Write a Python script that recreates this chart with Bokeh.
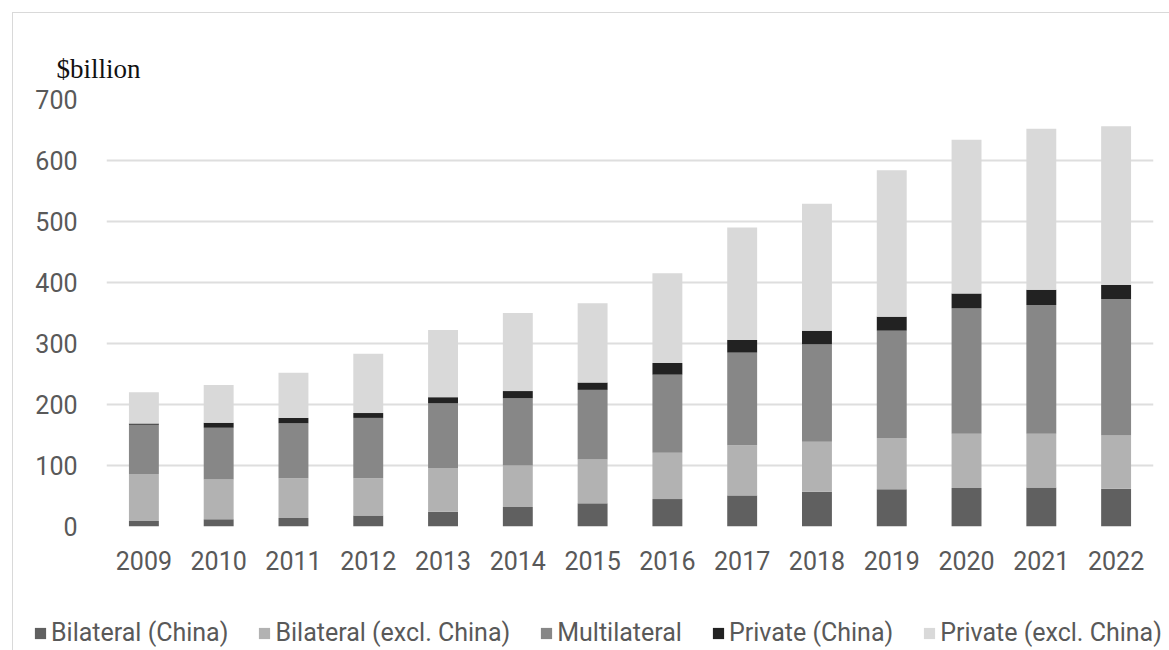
from bokeh.plotting import figure
from bokeh.models import Legend, LegendItem, ColumnDataSource
from bokeh.layouts import column
from bokeh.embed import file_html
from bokeh.resources import INLINE

years = ["2009", "2010", "2011", "2012", "2013", "2014", "2015", "2016",
         "2017", "2018", "2019", "2020", "2021", "2022"]
bilateral_china = [9, 12, 14, 18, 24, 32, 38, 45, 51, 57, 61, 63, 64, 62]
bilateral_excl = [77, 65, 65, 61, 72, 68, 72, 76, 82, 82, 84, 89, 88, 87]
multilateral = [81, 85, 90, 99, 106, 110, 114, 128, 152, 160, 176, 206, 211, 224]
private_china = [2, 8, 9, 8, 10, 12, 12, 19, 21, 22, 23, 24, 25, 23]
private_excl = [51, 62, 74, 97, 110, 128, 130, 147, 184, 208, 240, 252, 264, 260]
series_names = ["Bilateral (China)", "Bilateral (excl. China)", "Multilateral",
                "Private (China)", "Private (excl. China)"]
colors = ["#606060", "#b2b2b2", "#878787", "#222222", "#d9d9d9"]
y_ticks = [0, 100, 200, 300, 400, 500, 600, 700]

keys = ["bc", "be", "ml", "pc", "pe"]
src = ColumnDataSource(dict(years=years, bc=bilateral_china, be=bilateral_excl,
                            ml=multilateral, pc=private_china, pe=private_excl))

p = figure(x_range=years, y_range=(0, 700), width=1157, height=583,
           output_backend="svg", toolbar_location=None,
           min_border_left=93, min_border_right=17, min_border_top=86,
           min_border_bottom=70, title="$billion")

p.vbar_stack(keys, x="years", width=0.4, source=src, color=colors, line_color=None)

p.title.text_font = "Liberation Serif"
p.title.text_font_size = "27px"
p.title.text_font_style = "normal"
p.title.text_color = "#111111"
p.title.align = "left"
p.title.offset = -50
p.title.standoff = 31

p.outline_line_color = None
p.xgrid.grid_line_color = None
p.ygrid.grid_line_color = "#dedede"
p.ygrid.grid_line_width = 2
p.yaxis.ticker = y_ticks
for ax in (p.xaxis[0], p.yaxis[0]):
    ax.axis_line_color = None
    ax.major_tick_line_color = None
    ax.minor_tick_line_color = None
    ax.major_label_text_font = "Roboto"
    ax.major_label_text_font_size = "25px"
    ax.major_label_text_color = "#595959"
p.yaxis.major_label_standoff = 23
p.xaxis.major_label_standoff = 18

# legend strip below the chart (same stacked series, drawn outside its visible range)
lg = figure(width=1157, height=55, output_backend="svg", toolbar_location=None,
            x_range=years, y_range=(1000, 1001), x_axis_location=None,
            y_axis_location=None, min_border=0)
lg.frame_align = False
lg.outline_line_color = None
lg.xgrid.grid_line_color = None
lg.ygrid.grid_line_color = None
lg_renderers = lg.vbar_stack(keys, x="years", width=0.4, source=src, color=colors,
                             line_color=None)
items = [LegendItem(label=n, renderers=[r]) for n, r in zip(series_names, lg_renderers)]
legend = Legend(items=items, orientation="horizontal", location=(20, 4),
                label_text_font="Roboto", label_text_font_size="25px",
                label_text_color="#595959", glyph_width=14, glyph_height=14,
                label_standoff=4, spacing=29, border_line_color=None,
                background_fill_alpha=0, padding=4, margin=0)
lg.add_layout(legend, "center")

layout = column(p, lg, spacing=0)
layout.margin = (12, 0, 0, 12)
layout.styles = {"border-left": "1px solid #d9d9d9", "border-top": "1px solid #d9d9d9"}

open("out.html", "w").write(file_html(layout, INLINE))
